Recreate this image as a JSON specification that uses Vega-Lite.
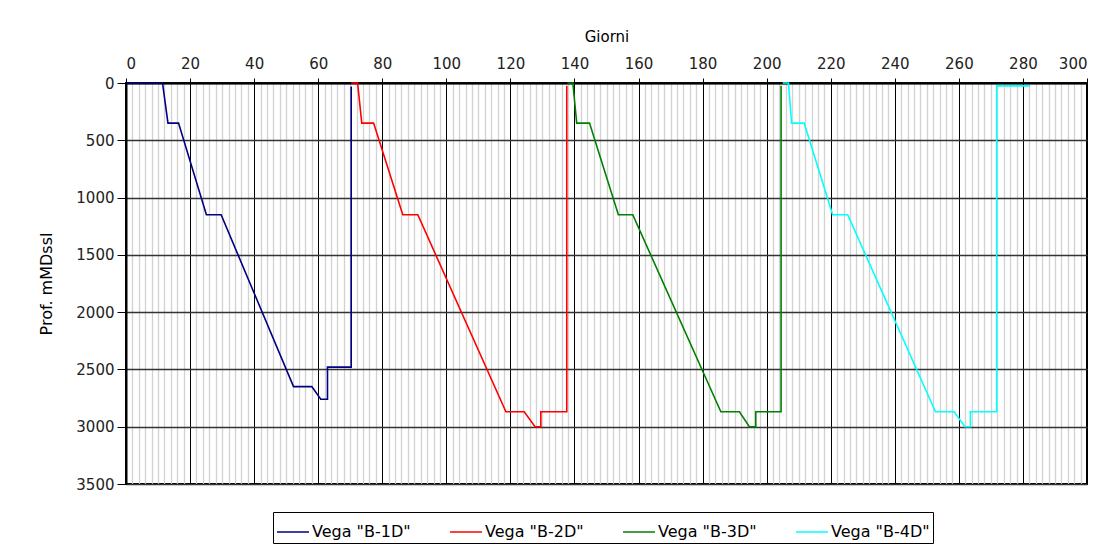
{
  "$schema": "https://vega.github.io/schema/vega-lite/v6.json",
  "width": 961,
  "height": 401,
  "autosize": {"type": "none"},
  "padding": {"left": 126, "top": 83, "right": 22, "bottom": 61},
  "background": "white",
  "config": {
    "font": "DejaVu Sans",
    "view": {"stroke": "black", "strokeWidth": 2}
  },
  "data": {
    "values": [
      {"serie": "Vega \"B-1D\"", "i": 0, "giorni": 0, "prof": 0},
      {"serie": "Vega \"B-1D\"", "i": 1, "giorni": 11.4, "prof": 0},
      {"serie": "Vega \"B-1D\"", "i": 2, "giorni": 13.1, "prof": 350},
      {"serie": "Vega \"B-1D\"", "i": 3, "giorni": 16.4, "prof": 350},
      {"serie": "Vega \"B-1D\"", "i": 4, "giorni": 25.1, "prof": 1150},
      {"serie": "Vega \"B-1D\"", "i": 5, "giorni": 29.7, "prof": 1150},
      {"serie": "Vega \"B-1D\"", "i": 6, "giorni": 52.3, "prof": 2650},
      {"serie": "Vega \"B-1D\"", "i": 7, "giorni": 58.0, "prof": 2650},
      {"serie": "Vega \"B-1D\"", "i": 8, "giorni": 60.8, "prof": 2760},
      {"serie": "Vega \"B-1D\"", "i": 9, "giorni": 62.9, "prof": 2760},
      {"serie": "Vega \"B-1D\"", "i": 10, "giorni": 62.9, "prof": 2480},
      {"serie": "Vega \"B-1D\"", "i": 11, "giorni": 70.3, "prof": 2480},
      {"serie": "Vega \"B-1D\"", "i": 12, "giorni": 70.3, "prof": 30},
      {"serie": "Vega \"B-2D\"", "i": 0, "giorni": 70.3, "prof": 0},
      {"serie": "Vega \"B-2D\"", "i": 1, "giorni": 72.3, "prof": 0},
      {"serie": "Vega \"B-2D\"", "i": 2, "giorni": 73.6, "prof": 350},
      {"serie": "Vega \"B-2D\"", "i": 3, "giorni": 77.3, "prof": 350},
      {"serie": "Vega \"B-2D\"", "i": 4, "giorni": 86.4, "prof": 1150},
      {"serie": "Vega \"B-2D\"", "i": 5, "giorni": 91.1, "prof": 1150},
      {"serie": "Vega \"B-2D\"", "i": 6, "giorni": 118.6, "prof": 2870},
      {"serie": "Vega \"B-2D\"", "i": 7, "giorni": 124.3, "prof": 2870},
      {"serie": "Vega \"B-2D\"", "i": 8, "giorni": 127.7, "prof": 3000},
      {"serie": "Vega \"B-2D\"", "i": 9, "giorni": 129.5, "prof": 3000},
      {"serie": "Vega \"B-2D\"", "i": 10, "giorni": 129.5, "prof": 2870},
      {"serie": "Vega \"B-2D\"", "i": 11, "giorni": 137.6, "prof": 2870},
      {"serie": "Vega \"B-2D\"", "i": 12, "giorni": 137.6, "prof": 25},
      {"serie": "Vega \"B-3D\"", "i": 0, "giorni": 137.8, "prof": 0},
      {"serie": "Vega \"B-3D\"", "i": 1, "giorni": 139.5, "prof": 0},
      {"serie": "Vega \"B-3D\"", "i": 2, "giorni": 140.7, "prof": 350},
      {"serie": "Vega \"B-3D\"", "i": 3, "giorni": 144.7, "prof": 350},
      {"serie": "Vega \"B-3D\"", "i": 4, "giorni": 153.7, "prof": 1150},
      {"serie": "Vega \"B-3D\"", "i": 5, "giorni": 158.2, "prof": 1150},
      {"serie": "Vega \"B-3D\"", "i": 6, "giorni": 185.7, "prof": 2870},
      {"serie": "Vega \"B-3D\"", "i": 7, "giorni": 191.5, "prof": 2870},
      {"serie": "Vega \"B-3D\"", "i": 8, "giorni": 194.6, "prof": 3000},
      {"serie": "Vega \"B-3D\"", "i": 9, "giorni": 196.6, "prof": 3000},
      {"serie": "Vega \"B-3D\"", "i": 10, "giorni": 196.6, "prof": 2870},
      {"serie": "Vega \"B-3D\"", "i": 11, "giorni": 204.5, "prof": 2870},
      {"serie": "Vega \"B-3D\"", "i": 12, "giorni": 204.5, "prof": 25},
      {"serie": "Vega \"B-4D\"", "i": 0, "giorni": 205.0, "prof": 0},
      {"serie": "Vega \"B-4D\"", "i": 1, "giorni": 206.8, "prof": 0},
      {"serie": "Vega \"B-4D\"", "i": 2, "giorni": 207.8, "prof": 350},
      {"serie": "Vega \"B-4D\"", "i": 3, "giorni": 211.7, "prof": 350},
      {"serie": "Vega \"B-4D\"", "i": 4, "giorni": 220.6, "prof": 1150},
      {"serie": "Vega \"B-4D\"", "i": 5, "giorni": 225.3, "prof": 1150},
      {"serie": "Vega \"B-4D\"", "i": 6, "giorni": 252.7, "prof": 2870},
      {"serie": "Vega \"B-4D\"", "i": 7, "giorni": 258.5, "prof": 2870},
      {"serie": "Vega \"B-4D\"", "i": 8, "giorni": 261.9, "prof": 3000},
      {"serie": "Vega \"B-4D\"", "i": 9, "giorni": 263.6, "prof": 3000},
      {"serie": "Vega \"B-4D\"", "i": 10, "giorni": 263.6, "prof": 2870},
      {"serie": "Vega \"B-4D\"", "i": 11, "giorni": 271.8, "prof": 2870},
      {"serie": "Vega \"B-4D\"", "i": 12, "giorni": 271.8, "prof": 25},
      {"serie": "Vega \"B-4D\"", "i": 13, "giorni": 282.2, "prof": 25}
    ]
  },
  "encoding": {
    "x": {"field": "giorni", "type": "quantitative", "scale": {"domain": [0, 300], "nice": false, "zero": false}},
    "y": {"field": "prof", "type": "quantitative", "scale": {"domain": [0, 3500], "nice": false, "reverse": true}}
  },
  "layer": [
    {
      "mark": {"type": "line", "opacity": 0},
      "encoding": {
        "x": {"field": "giorni", "type": "quantitative", "axis": null},
        "y": {
          "field": "prof", "type": "quantitative",
          "axis": {
            "orient": "left",
            "values": [0, 500, 1000, 1500, 2000, 2500, 3000, 3500],
            "format": "d",
            "grid": true, "gridColor": "#333333", "gridWidth": 1.3,
            "domain": true, "domainColor": "black", "domainWidth": 2,
            "ticks": true, "tickColor": "black", "tickSize": 9, "tickWidth": 1,
            "labelFontSize": 15, "labelColor": "#222222", "labelPadding": 3,
            "title": "Prof. mMDssl", "titleFontSize": 16, "titleFontWeight": "normal", "titleColor": "black", "titlePadding": 21
          }
        },
        "detail": {"field": "serie"}
      }
    },
    {
      "mark": {"type": "line", "opacity": 0},
      "encoding": {
        "x": {
          "field": "giorni", "type": "quantitative",
          "axis": {
            "orient": "bottom",
            "values": [2,4,6,8,10,12,14,16,18,22,24,26,28,30,32,34,36,38,42,44,46,48,50,52,54,56,58,62,64,66,68,70,72,74,76,78,82,84,86,88,90,92,94,96,98,102,104,106,108,110,112,114,116,118,122,124,126,128,130,132,134,136,138,142,144,146,148,150,152,154,156,158,162,164,166,168,170,172,174,176,178,182,184,186,188,190,192,194,196,198,202,204,206,208,210,212,214,216,218,222,224,226,228,230,232,234,236,238,242,244,246,248,250,252,254,256,258,262,264,266,268,270,272,274,276,278,282,284,286,288,290,292,294,296,298],
            "grid": true, "gridColor": "#d2d2d2", "gridWidth": 1.3,
            "domain": false, "ticks": false, "labels": false, "title": null
          }
        },
        "y": {"field": "prof", "type": "quantitative", "axis": null},
        "detail": {"field": "serie"}
      }
    },
    {
      "mark": {"type": "line", "opacity": 0},
      "encoding": {
        "x": {
          "field": "giorni", "type": "quantitative",
          "axis": {
            "orient": "top",
            "values": [0, 20, 40, 60, 80, 100, 120, 140, 160, 180, 200, 220, 240, 260, 280, 300],
            "grid": true, "gridColor": "black", "gridWidth": 1,
            "domain": true, "domainColor": "black", "domainWidth": 2,
            "ticks": true, "tickColor": "black", "tickSize": 5, "tickWidth": 1,
            "labelFontSize": 15, "labelColor": "#222222", "labelPadding": 7,
            "title": "Giorni", "titleFontSize": 15, "titleFontWeight": "normal", "titleColor": "black", "titlePadding": 12
          }
        },
        "y": {"field": "prof", "type": "quantitative", "axis": null},
        "detail": {"field": "serie"}
      }
    },
    {
      "mark": {"type": "line", "strokeWidth": 1.6},
      "encoding": {
        "x": {"field": "giorni", "type": "quantitative", "axis": null},
        "y": {"field": "prof", "type": "quantitative", "axis": null},
        "order": {"field": "i", "type": "quantitative"},
        "color": {
          "field": "serie", "type": "nominal",
          "scale": {
            "domain": ["Vega \"B-1D\"", "Vega \"B-2D\"", "Vega \"B-3D\"", "Vega \"B-4D\""],
            "range": ["#000080", "#ff0000", "#008000", "#00ffff"]
          },
          "legend": {
            "orient": "none", "legendX": 147, "legendY": 429,
            "direction": "horizontal", "columns": 4,
            "title": null,
            "symbolType": "stroke", "symbolSize": 1024, "symbolStrokeWidth": 1.5,
            "labelFontSize": 16, "labelColor": "black", "labelOffset": 2,
            "columnPadding": 36,
            "strokeColor": "black", "padding": 3
          }
        }
      }
    }
  ],
  "resolve": {"axis": {"x": "independent", "y": "independent"}}
}
